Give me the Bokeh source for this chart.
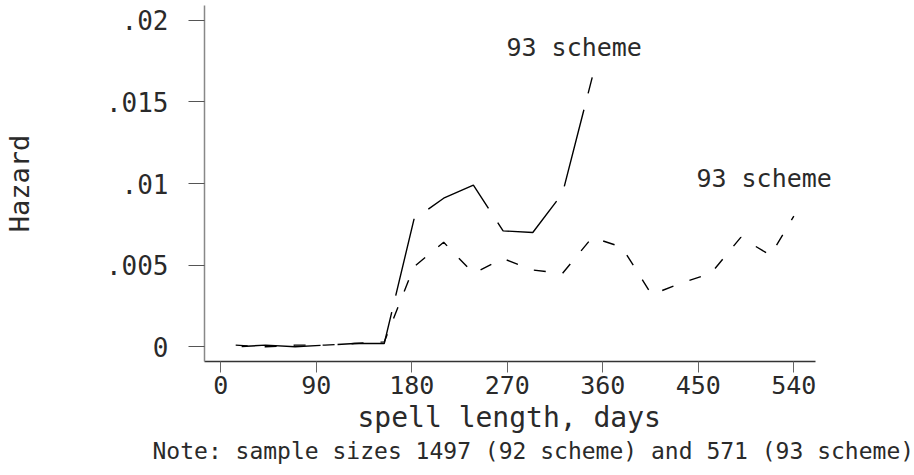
from bokeh.plotting import figure
from bokeh.models import FixedTicker, Range1d, Label, Title
from bokeh.embed import file_html
from bokeh.resources import INLINE

# Hazard by spell length (midpoints of 4-week intervals)
days_a = [14, 42, 70, 98, 126, 154, 182, 210, 238, 266, 294, 322, 350]
hazard_a = [0.0000, 0.0001, 0.0000, 0.0001, 0.0002, 0.0002, 0.0078, 0.0091,
            0.0099, 0.0071, 0.0070, 0.0094, 0.0165]

days_b = [14, 42, 70, 98, 126, 154, 182, 210, 238, 266, 294, 322, 350, 378,
          406, 434, 462, 490, 518, 540]
hazard_b = [0.0001, 0.0000, 0.0001, 0.0001, 0.0002, 0.0003, 0.0049, 0.0064,
            0.0045, 0.0054, 0.0047, 0.0045, 0.0067, 0.0061, 0.0032, 0.0039,
            0.0045, 0.0067, 0.0056, 0.0080]

x_ticks = [0, 90, 180, 270, 360, 450, 540]
y_ticks = [0, 0.005, 0.01, 0.015, 0.02]
y_tick_labels = ["0", ".005", ".01", ".015", ".02"]

label_a = "93 scheme"
label_b = "93 scheme"
x_title = "spell length, days"
y_title = "Hazard"
note = "Note: sample sizes 1497 (92 scheme) and 571 (93 scheme)"

FONT = "DejaVu Sans Mono"
INK = "#2a2a2a"

X_START, X_AXIS_END, X_VIEW_END = -15.4, 560.7, 588.7

p = figure(width=914, height=475, output_backend="svg", toolbar_location=None,
           x_range=Range1d(X_START, X_VIEW_END), y_range=Range1d(-0.0009, 0.0209),
           min_border_left=199, min_border_right=69, min_border_top=5,
           min_border_bottom=114)
p.outline_line_color = None
p.xgrid.visible = False
p.ygrid.visible = False
p.background_fill_color = "white"
p.border_fill_color = "white"

p.line(days_a, hazard_a, line_color="black", line_width=1.4, line_dash="79 17",
       line_dash_offset=90)
p.line(days_b, hazard_b, line_color="black", line_width=1.4, line_dash="12 17")

# series labels, placed near the end of each curve
p.add_layout(Label(x=days_a[-1] - 17, y=hazard_a[-1] + 0.0018, text=label_a,
                   text_align="center", text_baseline="middle",
                   text_font=FONT, text_font_size="25px", text_color=INK))
p.add_layout(Label(x=days_b[-1] - 28, y=hazard_b[-1] + 0.0023, text=label_b,
                   text_align="center", text_baseline="middle",
                   text_font=FONT, text_font_size="25px", text_color=INK))

# axes
xa = p.xaxis[0]
xa.bounds = (X_START, X_AXIS_END)
xa.ticker = FixedTicker(ticks=x_ticks)
xa.minor_tick_line_color = None
xa.major_tick_out = 11
xa.major_tick_in = 0
xa.major_tick_line_color = "#666666"
xa.axis_line_color = "#333333"
xa.axis_line_width = 1.5
xa.major_label_standoff = 3
xa.major_label_text_font = FONT
xa.major_label_text_font_size = "25px"
xa.major_label_text_color = INK

ya = p.yaxis[0]
ya.ticker = FixedTicker(ticks=y_ticks)
ya.major_label_overrides = {t: s for t, s in zip(y_ticks, y_tick_labels)}
ya.minor_tick_line_color = None
ya.major_tick_out = 16
ya.major_tick_in = 0
ya.major_tick_line_color = "#555555"
ya.axis_line_color = "#888888"
ya.axis_line_width = 1.5
ya.major_label_standoff = 20
ya.major_label_text_font = FONT
ya.major_label_text_font_size = "26px"
ya.major_label_text_color = INK
ya.axis_label = y_title
ya.axis_label_text_font = FONT
ya.axis_label_text_font_size = "27px"
ya.axis_label_text_font_style = "normal"
ya.axis_label_text_color = INK
ya.axis_label_standoff = 68

# x-axis title and the note underneath, centred under the axis line
p.add_layout(Title(text=x_title, align="left", offset=153, text_font=FONT,
                   text_font_size="28px", text_font_style="normal",
                   text_color=INK, standoff=4), "below")
p.add_layout(Title(text=note, align="left", offset=-52, text_font=FONT,
                   text_font_size="23px", text_font_style="normal",
                   text_color=INK, standoff=0), "below")

open("out.html", "w").write(file_html(p, INLINE))
